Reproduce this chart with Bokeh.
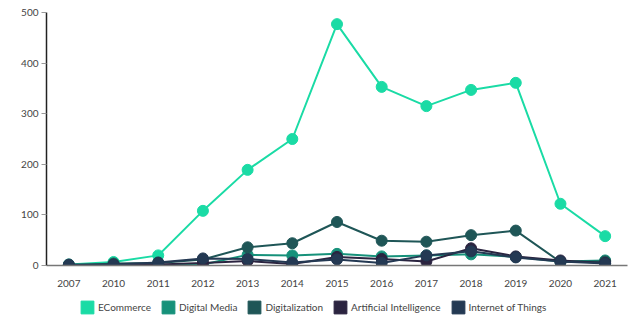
from bokeh.plotting import figure
from bokeh.layouts import column
from bokeh.models import Legend, LegendItem, FactorRange, Range1d, FixedTicker
from bokeh.embed import file_html
from bokeh.resources import INLINE

years = ["2007", "2010", "2011", "2012", "2013", "2014", "2015", "2016", "2017", "2018", "2019", "2020", "2021"]
ecommerce = [2, 7, 20, 108, 189, 250, 477, 353, 315, 347, 361, 122, 58]
digital_media = [0, 1, 1, 2, 21, 20, 23, 18, 20, 22, 17, 8, 10]
digitalization = [0, 4, 5, 12, 36, 44, 86, 49, 47, 60, 69, 7, 8]
artificial_intelligence = [0, 1, 2, 5, 9, 3, 17, 13, 8, 34, 18, 10, 5]
internet_of_things = [2, 2, 6, 14, 13, 6, 12, 5, 20, 28, 16, 8, 4]

names = ["ECommerce", "Digital Media", "Digitalization", "Artificial Intelligence", "Internet of Things"]
colors = ["#1adba5", "#16917a", "#1f5657", "#2b2440", "#243953"]
values = [ecommerce, digital_media, digitalization, artificial_intelligence, internet_of_things]

FONT = "Lato"
TEXT = "#444444"

p = figure(width=640, height=290, x_range=FactorRange(*years), y_range=Range1d(0, 500),
           output_backend="svg", toolbar_location=None,
           min_border_left=46, min_border_right=13, min_border_top=12, min_border_bottom=25)
p.outline_line_color = None
p.xgrid.visible = False
p.ygrid.visible = False

for name, vals, col in zip(names, values, colors):
    p.line(years, vals, line_color=col, line_width=2)
    p.scatter(years, vals, size=11, fill_color=col, line_color=col)

p.yaxis.ticker = FixedTicker(ticks=[0, 100, 200, 300, 400, 500])
p.yaxis.axis_line_color = "#222222"
p.yaxis.axis_line_width = 1.5
p.yaxis.major_tick_line_color = "#999999"
p.yaxis.major_tick_out = 5
p.yaxis.major_tick_in = 0
p.yaxis.minor_tick_line_color = None
p.xaxis.axis_line_color = "#777777"
p.xaxis.axis_line_width = 1.5
p.xaxis.major_tick_line_color = None
p.xaxis.minor_tick_line_color = None
for ax in (p.xaxis, p.yaxis):
    ax.major_label_text_font = FONT
    ax.major_label_text_font_size = "10px"
    ax.major_label_text_color = TEXT
p.xaxis.major_label_standoff = 8
p.yaxis.major_label_standoff = 3

# legend strip
lg = figure(width=640, height=46, x_range=Range1d(0, 1), y_range=Range1d(0, 1),
            output_backend="svg", toolbar_location=None,
            x_axis_type=None, y_axis_type=None,
            min_border_left=0, min_border_right=0, min_border_top=0, min_border_bottom=0)
lg.outline_line_color = None
lg.xgrid.visible = False
lg.ygrid.visible = False

items = []
for name, col in zip(names, colors):
    r = lg.quad(left=[5], right=[6], bottom=[5], top=[6], fill_color=col, line_color=col)
    items.append(LegendItem(label=name, renderers=[r]))

legend = Legend(items=items, orientation="horizontal", location=(33, 21),
                label_text_font=FONT, label_text_font_size="10px", label_text_color=TEXT,
                glyph_width=16, glyph_height=16, spacing=9, label_standoff=3,
                border_line_color=None, background_fill_alpha=0, padding=0, margin=0)
lg.add_layout(legend, "center")

layout = column(p, lg, spacing=0)
open("out.html", "w").write(file_html(layout, INLINE))
